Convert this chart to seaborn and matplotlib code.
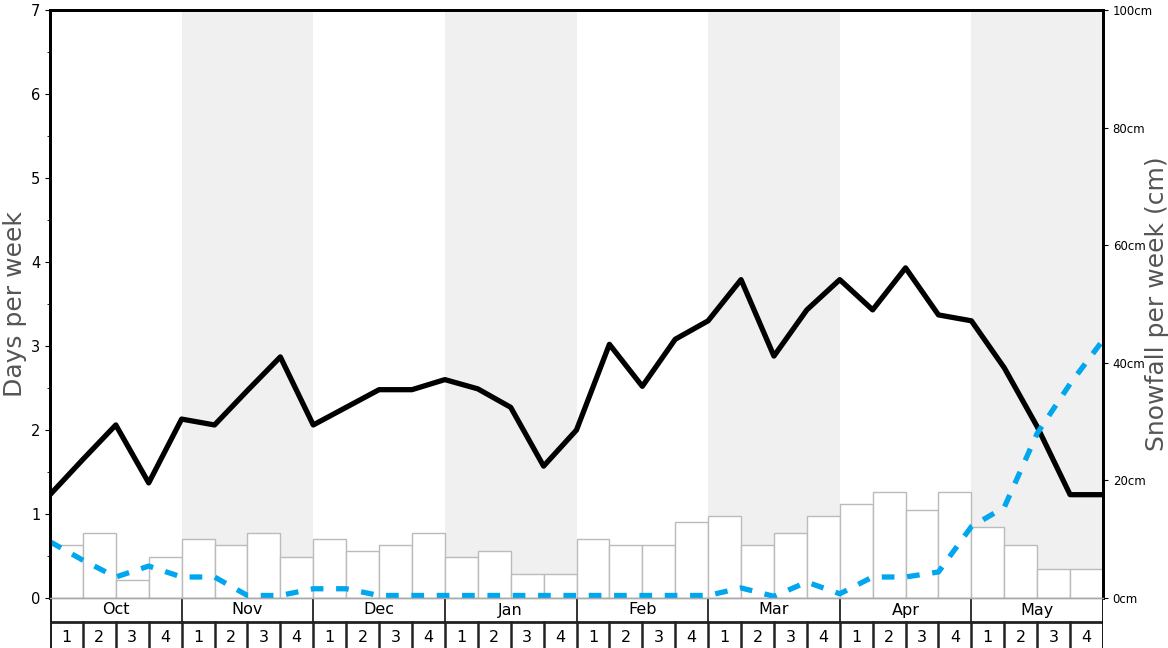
import numpy as np
import matplotlib
matplotlib.use("Agg")
import matplotlib.pyplot as plt
import seaborn as sns

months = ["Oct", "Nov", "Dec", "Jan", "Feb", "Mar", "Apr", "May"]
week_labels = ["1", "2", "3", "4"]

# snowfall per week (cm), one bar per week
snowfall_cm = [9, 11, 3, 7, 10, 9, 11, 7, 10, 8, 9, 11, 7, 8, 4, 4,
               10, 9, 9, 13, 14, 9, 11, 14, 16, 18, 15, 18, 12, 9, 5, 5]

# days per week, read at week boundaries (33 points)
snow_days = [1.23, 1.65, 2.06, 1.37, 2.13, 2.06, 2.47, 2.87, 2.06, 2.27, 2.48,
             2.48, 2.60, 2.49, 2.27, 1.57, 2.00, 3.02, 2.52, 3.08, 3.30, 3.79,
             2.88, 3.43, 3.79, 3.43, 3.93, 3.37, 3.30, 2.74, 2.04, 1.23, 1.23]
other_days = [0.67, 0.45, 0.25, 0.38, 0.25, 0.25, 0.03, 0.03, 0.11, 0.11, 0.03,
              0.03, 0.03, 0.03, 0.03, 0.03, 0.03, 0.03, 0.03, 0.03, 0.03, 0.12,
              0.02, 0.19, 0.05, 0.25, 0.25, 0.31, 0.85, 1.08, 1.96, 2.55, 3.07]

W, H = 1168, 648
fig = plt.figure(figsize=(W / 100, H / 100), dpi=100)
ax = fig.add_axes([50 / W, 50 / H, 1053 / W, 588 / H])
ax2 = ax.twinx()

n_weeks = len(snowfall_cm)
edges = np.arange(n_weeks + 1) - 0.5

# shaded months
for m in range(1, len(months), 2):
    ax2.axvspan(edges[4 * m], edges[4 * m + 4], color="#f0f0f0", lw=0, zorder=0)

sns.barplot(x=np.arange(n_weeks), y=snowfall_cm, ax=ax2, color="white",
            saturation=1, edgecolor="#bbbbbb", linewidth=1, width=1, zorder=2)
ax2.set_ylim(0, 100)
ax2.set_yticks(range(0, 101, 20))
ax2.set_yticklabels([f"{v}cm" for v in range(0, 101, 20)], fontsize=8.5)
ax2.set_ylabel("Snowfall per week (cm)", fontsize=18, color="#555555", labelpad=-6)

ax.set_zorder(ax2.get_zorder() + 1)
ax.patch.set_visible(False)
sns.lineplot(x=edges, y=snow_days, ax=ax, color="black", lw=3.8)
sns.lineplot(x=edges, y=other_days, ax=ax, color="#00a6ee", lw=3.8,
             linestyle=(0, (2.4, 2.4)))
ax.set_ylim(0, 7)
ax.set_yticks(range(0, 8))
ax.set_yticks(np.arange(0.5, 7, 1), minor=True)
ax.tick_params(axis="y", labelsize=10.5)
ax.set_ylabel("Days per week", fontsize=18, color="#555555", labelpad=3)

for a in (ax, ax2):
    a.set_xlim(edges[0], edges[-1])
    a.set_xticks([])
    a.set_xlabel("")
    for s in ("left", "right", "top"):
        a.spines[s].set_linewidth(2)
        a.spines[s].set_color("black")
    a.spines["bottom"].set_color("#aaaaaa")
    a.spines["bottom"].set_linewidth(1)

# month / week table below the chart
tab = fig.add_axes([50 / W, 0, 1053 / W, 50 / H])
tab.set_xlim(edges[0], edges[-1])
tab.set_ylim(0, 50)
tab.axis("off")
tab.axhline(26, color="#222222", lw=2)
tab.axvline(edges[0], color="black", lw=2)
tab.axvline(edges[-1], color="black", lw=2)
for i, m in enumerate(months):
    tab.plot([edges[4 * i]] * 2, [26, 50], color="#222222", lw=1.3)
    tab.text(edges[4 * i] + 2, 38, m, ha="center", va="center", fontsize=11.5)
for w in range(n_weeks):
    tab.plot([edges[w]] * 2, [0, 26], color="#222222", lw=1.8)
    tab.text(w, 11, week_labels[w % 4], ha="center", va="center", fontsize=11.5)

fig.savefig("out.png", dpi=100)
